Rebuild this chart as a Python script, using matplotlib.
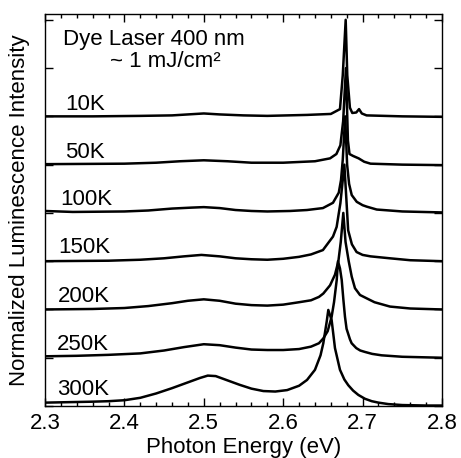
import matplotlib
matplotlib.use("Agg")
import matplotlib.pyplot as plt
from matplotlib.ticker import MultipleLocator

plt.rcParams['font.family'] = ['Liberation Sans', 'DejaVu Sans']

# spectra: photon energy (eV) and normalized intensity
e_10 = [2.30, 2.36, 2.42, 2.46, 2.48, 2.50, 2.52, 2.55, 2.58, 2.63, 2.66, 2.6715, 2.675,
        2.6787, 2.6807, 2.684, 2.687, 2.692, 2.6955, 2.699, 2.705, 2.75, 2.80]
i_10 = [0.00, 0.00, 0.01, 0.02, 0.04, 0.06, 0.04, 0.02, 0.01, 0.03, 0.05, 0.15, 0.85,
        2.00, 0.85, 0.18, 0.07, 0.08, 0.15, 0.06, 0.02, 0.00, -0.01]

e_50 = [2.30, 2.40, 2.44, 2.47, 2.50, 2.53, 2.56, 2.60, 2.64, 2.659, 2.667, 2.672, 2.6755,
        2.679, 2.6815, 2.6835, 2.688, 2.695, 2.702, 2.71, 2.75, 2.80]
i_50 = [0.01, 0.02, 0.04, 0.07, 0.09, 0.07, 0.04, 0.04, 0.07, 0.13, 0.22, 0.40, 0.90,
        2.00, 0.50, 0.22, 0.18, 0.13, 0.06, 0.02, 0.00, -0.01]

e_100 = [2.30, 2.335, 2.40, 2.43, 2.46, 2.485, 2.50, 2.52, 2.54, 2.56, 2.58, 2.6086, 2.63,
         2.65, 2.6627, 2.67, 2.6728, 2.675, 2.678, 2.6805, 2.683, 2.6863, 2.6926, 2.70,
         2.7052, 2.7178, 2.75, 2.80]
i_100 = [0.04, 0.02, 0.03, 0.05, 0.09, 0.11, 0.12, 0.10, 0.06, 0.04, 0.03, 0.04, 0.06,
         0.10, 0.21, 0.42, 0.68, 1.10, 2.00, 1.00, 0.60, 0.37, 0.23, 0.16,
         0.13, 0.07, 0.03, 0.01]

e_150 = [2.30, 2.38, 2.42, 2.45, 2.475, 2.497, 2.52, 2.54, 2.56, 2.58, 2.60, 2.62, 2.635,
         2.65, 2.6627, 2.6673, 2.672, 2.677, 2.6795, 2.6818, 2.6865, 2.6924, 2.70, 2.71,
         2.7343, 2.76, 2.80]
i_150 = [0.00, 0.01, 0.03, 0.06, 0.10, 0.13, 0.10, 0.06, 0.04, 0.03, 0.05, 0.09, 0.14,
         0.23, 0.51, 0.71, 1.20, 2.00, 1.30, 0.64, 0.35, 0.19, 0.13, 0.10,
         0.06, 0.02, 0.00]

e_200 = [2.30, 2.36, 2.40, 2.43, 2.46, 2.48, 2.50, 2.52, 2.54, 2.56, 2.58, 2.60, 2.62,
         2.635, 2.645, 2.6505, 2.659, 2.6652, 2.6695, 2.6725, 2.6757, 2.6785, 2.6825,
         2.6863, 2.6904, 2.6967, 2.7052, 2.715, 2.7345, 2.76, 2.80]
i_200 = [0.00, 0.01, 0.03, 0.07, 0.13, 0.18, 0.21, 0.18, 0.12, 0.09, 0.08, 0.10, 0.15,
         0.19, 0.26, 0.33, 0.50, 0.72, 1.00, 1.40, 2.00, 1.40, 1.00,
         0.68, 0.44, 0.30, 0.23, 0.15, 0.06, 0.02, 0.00]

e_250 = [2.30, 2.34, 2.38, 2.42, 2.45, 2.475, 2.50, 2.52, 2.54, 2.56, 2.58, 2.60, 2.62,
         2.635, 2.645, 2.6505, 2.656, 2.661, 2.664, 2.6674, 2.669, 2.6715, 2.6737, 2.6758,
         2.6778, 2.6798, 2.6841, 2.6862, 2.692, 2.697, 2.703, 2.712, 2.724, 2.75, 2.80]
i_250 = [0.03, 0.04, 0.06, 0.09, 0.15, 0.22, 0.28, 0.26, 0.21, 0.17, 0.16, 0.16, 0.18,
         0.23, 0.30, 0.40, 0.55, 0.85, 1.15, 1.61, 2.00, 1.85, 1.61, 1.20,
         0.85, 0.60, 0.38, 0.30, 0.20, 0.15, 0.12, 0.08, 0.05, 0.02, 0.00]

e_300 = [2.30, 2.33, 2.36, 2.38, 2.40, 2.42, 2.44, 2.46, 2.48, 2.495, 2.505, 2.515, 2.53,
         2.545, 2.56, 2.575, 2.59, 2.605, 2.62, 2.63, 2.64, 2.647, 2.6505, 2.6548, 2.6568,
         2.661, 2.6652, 2.6715, 2.677, 2.682, 2.688, 2.6946, 2.703, 2.7115, 2.72, 2.7324,
         2.75, 2.78, 2.80]
i_300 = [0.07, 0.08, 0.09, 0.10, 0.12, 0.17, 0.26, 0.37, 0.49, 0.58, 0.63, 0.62, 0.53,
         0.44, 0.36, 0.31, 0.30, 0.33, 0.42, 0.54, 0.75, 1.05, 1.30, 1.75, 1.99,
         1.78, 1.20, 0.75, 0.55, 0.43, 0.32, 0.23, 0.15, 0.10, 0.07, 0.04,
         0.02, 0.01, 0.01]

temps = ['10K', '50K', '100K', '150K', '200K', '250K', '300K']
offsets = [6, 5, 4, 3, 2, 1, 0]
label_x = [2.3252, 2.3252, 2.3189, 2.3164, 2.3164, 2.3151, 2.3151]
label_dy = [0.13, 0.13, 0.16, 0.16, 0.16, 0.16, 0.23]

spectra = [(e_10, i_10), (e_50, i_50), (e_100, i_100), (e_150, i_150),
           (e_200, i_200), (e_250, i_250), (e_300, i_300)]

fig = plt.figure(figsize=(4.61, 4.58), dpi=100)
ax = fig.add_axes([0.0976, 0.1135, 0.8612, 0.8559])

for (e, i), off in zip(spectra, offsets):
    ax.plot(e, [v + off for v in i], color='black', linewidth=1.8,
            solid_joinstyle='round')

for t, x, off, dy in zip(temps, label_x, offsets, label_dy):
    ax.text(x, off + dy, t, fontsize=16, va='baseline', ha='left')

ax.text(2.3227, 7.47, 'Dye Laser 400 nm', fontsize=16, va='baseline', ha='left')
ax.text(2.3815, 7.02, '~ 1 mJ/cm²', fontsize=16, va='baseline', ha='left')

ax.set_xlim(2.3, 2.8)
ax.set_ylim(0, 8.12)
ax.xaxis.set_major_locator(MultipleLocator(0.1))
ax.xaxis.set_minor_locator(MultipleLocator(0.02))
ax.yaxis.set_major_locator(MultipleLocator(1))
ax.set_yticklabels([])
ax.tick_params(axis='both', which='major', direction='in', length=6, width=1,
               top=True, right=True, labelsize=16, pad=5)
ax.tick_params(axis='both', which='minor', direction='in', length=3, width=1,
               top=True, right=True)
ax.tick_params(axis='y', which='minor', left=False, right=False)
for s in ax.spines.values():
    s.set_linewidth(1.0)

ax.set_xlabel('Photon Energy (eV)', fontsize=16, labelpad=2)
ax.set_ylabel('Normalized Luminescence Intensity', fontsize=16, labelpad=6)

fig.savefig('out.png', dpi=100)
